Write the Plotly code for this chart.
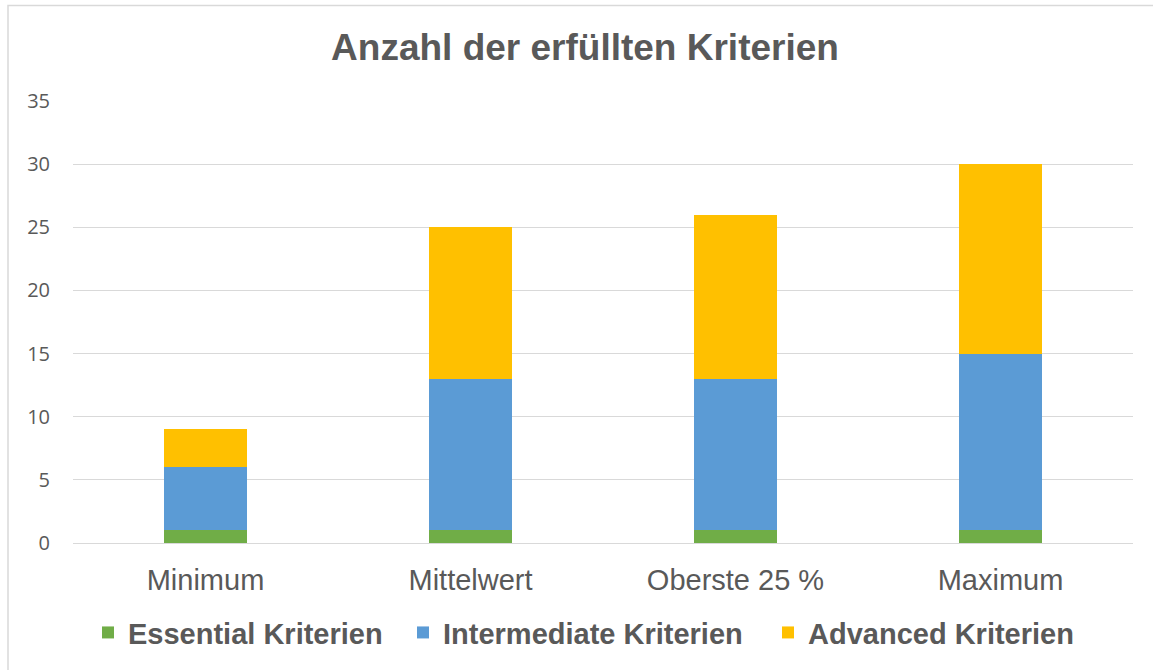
import plotly.graph_objects as go

categories = ["Minimum", "Mittelwert", "Oberste 25 %", "Maximum"]
essential = [1, 1, 1, 1]
intermediate = [5, 12, 12, 14]
advanced = [3, 12, 13, 15]
series_names = ["Essential Kriterien", "Intermediate Kriterien", "Advanced Kriterien"]
colors = ["#70AD47", "#5B9BD5", "#FFC000"]

W, H = 1153, 670
L, R, T, B = 73, 20, 101, 125
pw, ph = W - L - R, H - T - B
FONT = "Liberation Sans, Arial"

# pixel x where each legend entry's text begins
legend_text_x = [128, 443, 808]
legend_keys = ["legend", "legend2", "legend3"]

fig = go.Figure()
for name, vals, col, lk in zip(series_names, [essential, intermediate, advanced], colors, legend_keys):
    fig.add_trace(go.Bar(x=categories, y=vals, name=name, legend=lk,
                         marker=dict(color=col, line=dict(width=0))))

legend_common = dict(orientation="h", yanchor="middle", y=(545 - 635) / ph, xanchor="left",
                     font=dict(family=FONT, size=29, color="#595959", weight="bold"),
                     itemwidth=30, bgcolor="rgba(0,0,0,0)")
legends = {}
for lk, tx in zip(legend_keys, legend_text_x):
    legends[lk] = dict(legend_common, x=(tx - 40 - L) / pw)

fig.update_layout(
    width=W, height=H,
    barmode="stack", bargap=0.687,
    paper_bgcolor="white", plot_bgcolor="white",
    margin=dict(l=L, r=R, t=T, b=B),
    title=dict(text="<b>Anzahl der erfüllten Kriterien</b>", x=585 / W, xanchor="center",
               y=1 - 47 / H, yanchor="middle",
               font=dict(family=FONT, size=37, color="#595959")),
    xaxis=dict(showgrid=False, showline=False, ticks="",
               tickfont=dict(family=FONT, size=29, color="#595959"),
               ticklabelstandoff=17),
    yaxis=dict(range=[0, 35], dtick=5, showgrid=True, gridcolor="#D9D9D9", gridwidth=1,
               zeroline=True, zerolinecolor="#D9D9D9", zerolinewidth=1,
               tickfont=dict(family="Open Sans, Liberation Sans", size=20, color="#595959"),
               ticklabelstandoff=22),
    showlegend=True,
    **legends,
)
fig.add_shape(type="rect", xref="paper", yref="paper",
              x0=(8 - L) / pw, x1=(W + 20 - L) / pw, y0=-(B + 20) / ph, y1=1 + (T - 5) / ph,
              line=dict(color="#D9D9D9", width=1.5), fillcolor="rgba(0,0,0,0)", layer="below")
fig.write_html("out.html", config={"displayModeBar": False},
               post_script="document.body.style.margin='0';document.body.style.padding='0';")
